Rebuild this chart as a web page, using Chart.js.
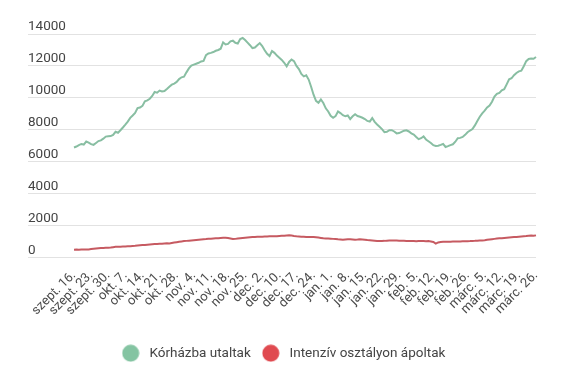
<!DOCTYPE html>
<html>
<head>
<meta charset="utf-8">
<script src="https://cdn.jsdelivr.net/npm/chart.js@4/dist/chart.umd.min.js"></script>
<style>
  html, body { margin: 0; padding: 0; background: #fff; }
  #wrap { width: 578px; height: 385px; }
</style>
</head>
<body>
<div id="wrap"><canvas id="chart"></canvas></div>
<script>
// weekly tick labels, one every 7 days
const tickLabels = [
  "szept. 16.", "szept. 23.", "szept. 30.", "okt. 7.", "okt. 14.", "okt. 21.", "okt. 28.",
  "nov. 4.", "nov. 11.", "nov. 18.", "nov. 25.", "dec. 2.", "dec. 10.", "dec. 17.",
  "dec. 24.", "jan. 1.", "jan. 8.", "jan. 15.", "jan. 22.", "jan. 29.", "feb. 5.",
  "feb. 12.", "feb. 19.", "feb. 26.", "márc. 5.", "márc. 12.", "márc. 19.", "márc. 26."
];

// Kórházba utaltak (daily)
const hospitalised = [
  6900, 6960, 7050, 7120, 7080, 7270, 7200,
  7110, 7060, 7180, 7300, 7340, 7450, 7580,
  7600, 7610, 7690, 7880, 7820, 7980, 8150,
  8330, 8520, 8750, 8900, 9060, 9360, 9400,
  9500, 9790, 9850, 9950, 10120, 10370, 10330,
  10460, 10400, 10430, 10560, 10700, 10830, 10900,
  11000, 11180, 11290, 11330, 11600, 11850, 12020,
  12080, 12140, 12200, 12280, 12320, 12680, 12780,
  12820, 12870, 12950, 13000, 13080, 13480, 13350,
  13380, 13540, 13580, 13450, 13400, 13680, 13750,
  13620, 13460, 13300, 13120, 13150, 13300, 13430,
  13250, 12980, 12760, 12620, 12930, 12820, 12650,
  12520, 12380, 12200, 11980, 12250, 12400, 12300,
  12000, 11800, 11500, 11350, 11420, 11150, 10700,
  10200, 9820, 9700, 9900, 9680, 9350, 9150,
  8880, 8760, 8860, 9150, 9050, 8920, 8850,
  8900, 8680, 8850, 8980, 8870, 8820, 8760,
  8680, 8560, 8520, 8740, 8500, 8340, 8200,
  8050, 7860, 7880, 7980, 7980, 7900, 7780,
  7800, 7870, 7950, 7970, 7900, 7780, 7710,
  7560, 7420, 7480, 7590, 7400, 7290, 7180,
  7040, 6990, 7010, 7060, 7120, 6930, 6980,
  7050, 7100, 7260, 7480, 7500, 7560, 7690,
  7850, 7960, 8050, 8280, 8560, 8820, 9030,
  9200, 9400, 9520, 9760, 10080, 10250, 10310,
  10480, 10540, 10850, 11160, 11230, 11420, 11560,
  11660, 11700, 11980, 12300, 12440, 12460, 12450, 12560
];

// Intenzív osztályon ápoltak (daily)
const intensive = [
  500, 510, 505, 515, 520, 515, 520,
  540, 560, 580, 600, 610, 615, 620,
  625, 640, 660, 680, 690, 695, 700,
  705, 715, 725, 735, 745, 760, 775,
  790, 800, 815, 830, 845, 855, 860,
  870, 880, 895, 905, 890, 920, 950,
  975, 1000, 1020, 1040, 1055, 1070, 1085,
  1100, 1115, 1130, 1145, 1160, 1170, 1185,
  1195, 1205, 1215, 1225, 1240, 1250, 1245,
  1230, 1200, 1170, 1180, 1200, 1220, 1240,
  1255, 1270, 1280, 1290, 1300, 1310, 1310,
  1320, 1325, 1330, 1340, 1345, 1350, 1345,
  1360, 1370, 1380, 1390, 1400, 1385, 1360,
  1340, 1330, 1320, 1315, 1305, 1300, 1295,
  1290, 1280, 1260, 1240, 1220, 1210, 1200,
  1190, 1180, 1165, 1150, 1140, 1125, 1145,
  1160, 1150, 1140, 1130, 1135, 1150, 1145,
  1130, 1110, 1095, 1080, 1065, 1050, 1040,
  1045, 1055, 1070, 1080, 1085, 1080, 1080,
  1070, 1060, 1055, 1050, 1045, 1040, 1040,
  1035, 1045, 1050, 1040, 1030, 1040, 1020,
  990, 880, 960, 985, 995, 1000, 1000,
  1005, 1010, 1010, 1015, 1020, 1025, 1030,
  1035, 1040, 1050, 1055, 1065, 1075, 1085,
  1100, 1120, 1140, 1160, 1180, 1200, 1215,
  1225, 1240, 1255, 1270, 1280, 1290, 1300,
  1315, 1330, 1345, 1360, 1380, 1390, 1370, 1400
];

const seriesNames = ["Kórházba utaltak", "Intenzív osztályon ápoltak"];
const lineColors = ["#88bea2", "#c65a61"];
const dotColors = ["#84c4a2", "#e04a50"];

// one label per day, only every 7th one is shown
const labels = hospitalised.map(function(v, i) {
    return i % 7 === 0 ? (tickLabels[i / 7] || "") : "";
});

function makeDot(sColor) {
    const oCanvas = document.createElement("canvas");
    oCanvas.width = 18;
    oCanvas.height = 18;
    const oCtx = oCanvas.getContext("2d");
    oCtx.fillStyle = sColor;
    oCtx.beginPath();
    oCtx.arc(9, 9, 8.5, 0, Math.PI * 2);
    oCtx.fill();
    return oCanvas;
}

Chart.defaults.font.family = "Roboto, 'Noto Sans', sans-serif";
Chart.defaults.color = "#444";

const oCtx = document.getElementById("chart").getContext("2d");
new Chart(oCtx, {
    type: "line",
    data: {
        labels: labels,
        datasets: [{
            label: seriesNames[0],
            data: hospitalised,
            borderColor: lineColors[0],
            backgroundColor: dotColors[0],
            borderWidth: 2,
            pointRadius: 0,
            tension: 0
        }, {
            label: seriesNames[1],
            data: intensive,
            borderColor: lineColors[1],
            backgroundColor: dotColors[1],
            borderWidth: 2,
            pointRadius: 0,
            tension: 0
        }]
    },
    options: {
        responsive: true,
        maintainAspectRatio: false,
        animation: false,
        layout: {
            padding: { left: 28, right: 42, top: 34, bottom: 15 }
        },
        plugins: {
            tooltip: { enabled: false },
            legend: {
                position: "bottom",
                labels: {
                    usePointStyle: true,
                    pointStyleWidth: 24,
                    padding: 8,
                    font: { size: 13.5 },
                    color: "#444",
                    generateLabels: function(chart) {
                        const aItems = Chart.defaults.plugins.legend.labels.generateLabels(chart);
                        aItems.forEach(function(oItem, i) {
                            oItem.pointStyle = makeDot(dotColors[i]);
                        });
                        return aItems;
                    }
                }
            }
        },
        scales: {
            x: {
                grid: { display: false },
                border: { display: false },
                ticks: {
                    autoSkip: false,
                    minRotation: 45,
                    maxRotation: 45,
                    padding: 2,
                    font: { size: 13 },
                    color: "#4a4a4a"
                },
                afterFit: function(axis) {
                    axis.height += 18;
                }
            },
            y: {
                min: 0,
                max: 14000,
                border: { display: false },
                grid: {
                    color: "#e2e2e2",
                    tickLength: 46
                },
                ticks: {
                    stepSize: 2000,
                    crossAlign: "far",
                    labelOffset: -7,
                    font: { size: 13.5 },
                    color: "#444",
                    callback: function(value) {
                        return String(value);
                    }
                },
                afterFit: function(axis) {
                    axis.width = 46;
                }
            }
        }
    }
});
</script>
</body>
</html>
